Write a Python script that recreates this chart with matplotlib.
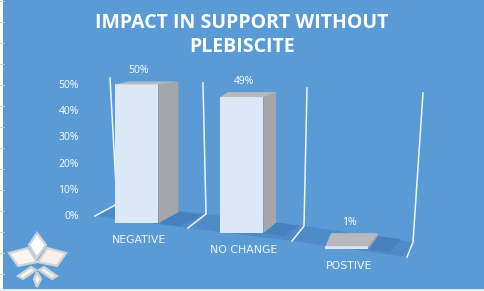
import matplotlib.pyplot as plt
from matplotlib.patches import Polygon, Rectangle

# chart data
categories = ["NEGATIVE", "NO CHANGE", "POSTIVE"]
values = [0.50, 0.49, 0.01]
value_labels = ["50%", "49%", "1%"]
tick_values = [0, 0.1, 0.2, 0.3, 0.4, 0.5]
tick_labels = ["0%", "10%", "20%", "30%", "40%", "50%"]
title_lines = ["IMPACT IN SUPPORT WITHOUT", "PLEBISCITE"]

# fake-3D look (per bar): floor level, depth shift, top/bottom rise
floor = [-0.031, -0.069, -0.13]
depth = [0.19, 0.12, 0.09]
rise_bot = [0.042, 0.040, 0.05]
rise_top = [0.011, 0.019, 0.05]
persp = 1.06
bw = 0.41

BG = "#5b9bd5"
FLOOR = "#4f8bc9"
FRONT = "#dde8f6"
SIDE = "#a3a7ab"
TOP = "#b6babe"
FONT = "Open Sans"

W, H = 484, 291
fig = plt.figure(figsize=(W / 100, H / 100), dpi=100)
fig.patch.set_facecolor(BG)


def fbox(x0, y0, x1, y1):
    return [x0 / W, 1 - y1 / H, (x1 - x0) / W, (y1 - y0) / H]


# background layer in pixel coordinates: floor band, wall lines, logo, edges
bg = fig.add_axes([0, 0, 1, 1])
bg.set_xlim(0, W); bg.set_ylim(H, 0); bg.axis("off")
bg.add_patch(Polygon([(117, 204), (206, 214), (304, 226), (413, 242),
                      (407, 257), (292, 241), (188, 228), (95, 216)],
                     closed=True, fc=FLOOR, ec="none"))
walls = [[(110, 78), (117, 204), (95, 216)],
         [(203, 83), (206, 214), (188, 228)],
         [(307, 88), (304, 226), (292, 241)],
         [(423, 93), (413, 242), (407, 257)]]
for w in walls:
    bg.plot([p[0] for p in w], [p[1] for p in w], color="#eef4fc", lw=1.1,
            solid_joinstyle="miter")
bg.add_patch(Rectangle((0, 0), 3, H, fc="white", ec="none"))
for yy in range(1, H, 21):
    bg.plot([0, 4], [yy, yy], color="#c8c8c8", lw=0.6)
bg.add_patch(Rectangle((0, H - 2), W, 2, fc="#e8eef6", ec="none"))

# logo
logo = [([(37, 233), (46, 245), (37, 258), (29, 245)], "#ffffff"),
        ([(9, 253), (28, 248), (37, 262), (18, 266)], "#fdf5f2"),
        ([(66, 253), (47, 248), (38, 262), (57, 266)], "#fbefeb"),
        ([(18, 276), (31, 267), (36, 270), (23, 279)], "#faf7e6"),
        ([(57, 276), (44, 267), (39, 270), (52, 279)], "#ecf5ea"),
        ([(37, 272), (41, 279), (37, 287), (34, 279)], "#f2f4f6")]
for pts, c in logo:
    bg.add_patch(Polygon(pts, closed=True, fc=c, ec="#cfd2d6", lw=1.6,
                         joinstyle="miter"))

# main chart axes
ax = fig.add_axes(fbox(90, 60, 440, 270))
ax.patch.set_visible(False)
ax.set_xlim(-0.162, 3.171)
ax.set_ylim(-0.21, 0.592)
for s in ax.spines.values():
    s.set_visible(False)
ax.set_xticks([])
ax.set_yticks(tick_values)
ax.set_yticklabels(tick_labels, fontfamily=FONT, fontsize=7.5, color="white")
ax.tick_params(axis="y", length=0, pad=8)

lefts = [i + 0.08 for i in range(len(values))]
heights = [v * persp for v in values]
ax.bar(lefts, heights, width=bw, bottom=floor, align="edge",
       color=FRONT, edgecolor="none", zorder=3)

for i, (l, h) in enumerate(zip(lefts, heights)):
    b = floor[i]
    t = b + h
    r = l + bw
    dx, db, dt = depth[i], rise_bot[i], rise_top[i]
    # shadow on the floor
    ax.add_patch(Polygon([(r, b), (r + dx, b + db), (r + dx + 0.22, b + db - 0.012),
                          (r + 0.2, b - 0.012)], closed=True,
                         fc="#4680bd", ec="none", zorder=2))
    ax.add_patch(Polygon([(r, b), (r + dx, b + db), (r + dx, t + dt), (r, t)],
                         closed=True, fc=SIDE, ec="none", zorder=3))
    ax.add_patch(Polygon([(l, t), (r, t), (r + dx, t + dt), (l + dx * 0.6, t + dt)],
                         closed=True, fc=TOP, ec="none", zorder=4))
    cx = l + bw / 2
    ax.annotate(value_labels[i], (cx + 0.02, t + dt), xytext=(0, 4),
                textcoords="offset points", ha="center", va="bottom",
                fontfamily=FONT, fontsize=7.5, color="white", zorder=5,
                bbox=dict(boxstyle="square,pad=0.25", fc=BG, ec="none"))
    ax.annotate(categories[i], (cx + 0.02, b), xytext=(0, -12.5),
                textcoords="offset points", ha="center", va="center",
                fontfamily="DejaVu Sans", fontsize=7.8, color="#eef3fb", zorder=5)

fig.text(242 / W, 1 - 23 / H, title_lines[0], ha="center", va="center",
         fontfamily=FONT, fontweight="bold", fontsize=14, color="white")
fig.text(242 / W, 1 - 47 / H, title_lines[1], ha="center", va="center",
         fontfamily=FONT, fontweight="bold", fontsize=14, color="white")

fig.savefig("out.png", dpi=100, facecolor=BG)
